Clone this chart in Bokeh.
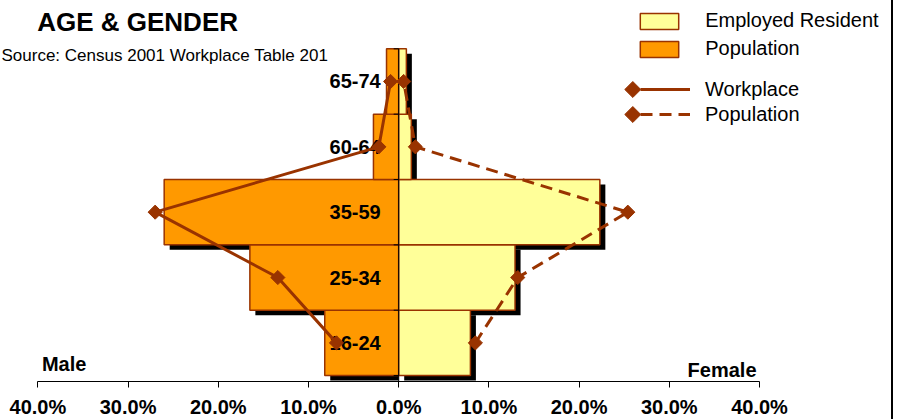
import math
from bokeh.plotting import figure
from bokeh.models import (Range1d, FixedTicker, CustomJSTickFormatter, Label,
                          Legend, LegendItem, ColumnDataSource)
from bokeh.embed import file_html
from bokeh.resources import INLINE
from bokeh.core.properties import value

# ---------------- data ----------------
ages = ["16-24", "25-34", "35-59", "60-64", "65-74"]
male_resident = [8.2, 16.5, 26.0, 2.8, 1.35]        # % (drawn to the left)
female_resident = [7.95, 12.9, 22.3, 1.4, 0.85]     # % (drawn to the right)
male_workplace = [6.9, 13.4, 27.0, 2.2, 0.9]
female_workplace = [8.5, 13.2, 25.4, 1.85, 0.55]
tick_values = [-40, -30, -20, -10, 0, 10, 20, 30, 40]

title_text = "AGE & GENDER"
source_text = "Source: Census 2001 Workplace Table 201"
legend_labels = ["Employed Resident", "Population", "Workplace", "Population"]

# ---------------- layout constants (pixels) ----------------
FONT = "Liberation Sans"
FRAME_W, FRAME_H = 891, 381
PX_PER_PCT = 9.02
ZERO_X = 398.2
BAND_PX = 65.35
TOP_BAND_PX = 48.3
n = len(ages)
x_start = -ZERO_X / PX_PER_PCT
x_end = (FRAME_W - ZERO_X) / PX_PER_PCT
y_end = n - 0.5 + TOP_BAND_PX / BAND_PX
y_start = y_end - FRAME_H / BAND_PX

BROWN = "#993300"
ORANGE = "#FF9900"
YELLOW = "#FFFF99"

idx = list(range(n))
src = ColumnDataSource(dict(
    age=ages, y=idx,
    m_left=[-v for v in male_resident],
    f_right=female_resident,
    mw=[-v for v in male_workplace],
    fw=female_workplace,
))

p = figure(frame_width=FRAME_W, frame_height=FRAME_H,
           x_range=Range1d(x_start, x_end), y_range=Range1d(y_start, y_end),
           output_backend="svg", toolbar_location=None, y_axis_location=None,
           min_border_left=0, min_border_right=0, min_border_top=0,
           min_border_bottom=0)
p.outline_line_color = None
p.xgrid.visible = False
p.ygrid.visible = False
p.background_fill_color = "white"
p.border_fill_color = "white"
# right-hand frame line of the chart picture
p.styles = {"border-right": "2px solid black"}

# shadows
dx = 5.5 / PX_PER_PCT
dy = 5.0 / BAND_PX
p.hbar(y=[i - dy for i in idx], left=[-v + dx for v in male_resident],
       right=[0] * n, height=1, fill_color="black", line_color=None)
p.hbar(y=[i - dy for i in idx], left=[dx] * n,
       right=[v + dx for v in female_resident], height=1,
       fill_color="black", line_color=None)

# bars
male_r = p.hbar(y="y", left="m_left", right=0, height=1, source=src,
                fill_color=ORANGE, line_color=BROWN, line_width=1.5)
female_r = p.hbar(y="y", left=0, right="f_right", height=1, source=src,
                  fill_color=YELLOW, line_color=BROWN, line_width=1.5)

# central category axis line with ticks between bands
p.segment(x0=[0], y0=[y_start], x1=[0], y1=[n - 0.5],
          line_color="black", line_width=1)
bounds = [i - 0.5 for i in range(n + 1)]
tick_len = 5 / PX_PER_PCT
p.segment(x0=[-tick_len] * len(bounds), x1=[0] * len(bounds),
          y0=bounds, y1=bounds, line_color="black", line_width=1)

# category labels
p.text(x=0, y="y", text="age", source=src, x_offset=-18,
       text_align="right", text_baseline="middle",
       text_font=value(FONT), text_font_style="bold",
       text_font_size="20px", text_color="black")

# workplace lines
mline = p.line(x="mw", y="y", source=src, line_color=BROWN, line_width=3)
p.scatter(x="mw", y="y", source=src, marker="square", size=10,
          angle=math.pi / 4, fill_color=BROWN, line_color=BROWN)
fline = p.line(x="fw", y="y", source=src, line_color=BROWN, line_width=3,
               line_dash="12 7")
p.scatter(x="fw", y="y", source=src, marker="square", size=10,
          angle=math.pi / 4, fill_color=BROWN, line_color=BROWN)

# x axis
ax = p.xaxis[0]
ax.ticker = FixedTicker(ticks=tick_values)
ax.formatter = CustomJSTickFormatter(code="return Math.abs(tick).toFixed(1) + '%';")
ax.bounds = (tick_values[0], tick_values[-1])
ax.major_tick_out = 6
ax.major_tick_in = 0
ax.minor_tick_out = 0
ax.minor_tick_in = 0
ax.axis_line_color = "black"
ax.major_tick_line_color = "black"
ax.major_label_standoff = 8
ax.major_label_text_font = FONT
ax.major_label_text_font_style = "bold"
ax.major_label_text_font_size = "20px"
ax.major_label_text_color = "black"

# texts (y is the text's vertical centre, measured up from the frame bottom)
p.add_layout(Label(x=36.7, y=FRAME_H - 21.2, x_units="screen", y_units="screen",
                   text=title_text, text_font=FONT, text_font_style="bold",
                   text_font_size="26px", text_color="black",
                   text_baseline="middle"))
p.add_layout(Label(x=1, y=FRAME_H - 55, x_units="screen", y_units="screen",
                   text=source_text, text_font=FONT, text_font_size="17px",
                   text_color="black", text_baseline="middle"))
p.add_layout(Label(x=tick_values[0], y=17.7, x_offset=4, y_units="screen",
                   text="Male", text_font=FONT, text_font_style="bold",
                   text_font_size="20px", text_color="black",
                   text_baseline="middle", text_align="left"))
p.add_layout(Label(x=tick_values[-1], y=11.7, x_offset=-3, y_units="screen",
                   text="Female", text_font=FONT, text_font_style="bold",
                   text_font_size="20px", text_color="black",
                   text_baseline="middle", text_align="right"))

# legends
ROW_H = 23
LEG_A = (635.2, FRAME_H - (20.7 - ROW_H / 2 + 2 * ROW_H + 5))
LEG_B_TOP = 89 - ROW_H / 2
LEG_B = (640.0, FRAME_H - (LEG_B_TOP + 2 * ROW_H + 2))
common = dict(padding=0, margin=0, border_line_color=None,
              background_fill_alpha=0, label_text_font=FONT,
              label_text_font_size="20px", label_text_color="black",
              label_height=20, glyph_height=20)
legA = Legend(items=[LegendItem(label=legend_labels[0], renderers=[female_r]),
                     LegendItem(label=legend_labels[1], renderers=[male_r])],
              location=LEG_A, glyph_width=48, label_standoff=22, spacing=5,
              **common)
legB = Legend(items=[LegendItem(label=legend_labels[2], renderers=[mline]),
                     LegendItem(label=legend_labels[3], renderers=[fline])],
              location=LEG_B, glyph_width=50, label_standoff=15, spacing=2,
              **common)
p.add_layout(legA)
p.add_layout(legB)

# legend diamonds at the left end of the legend lines (pixel space)
p.extra_x_ranges = {"px": Range1d(0, FRAME_W)}
p.extra_y_ranges = {"px": Range1d(FRAME_H, 0)}
p.scatter(x=[LEG_B[0] - 7.7] * 2,
          y=[LEG_B_TOP + ROW_H / 2, LEG_B_TOP + ROW_H * 1.5 + 2],
          x_range_name="px", y_range_name="px", marker="square",
          angle=math.pi / 4, size=11.3, fill_color=BROWN, line_color=BROWN)

open("out.html", "w").write(file_html(p, INLINE))
